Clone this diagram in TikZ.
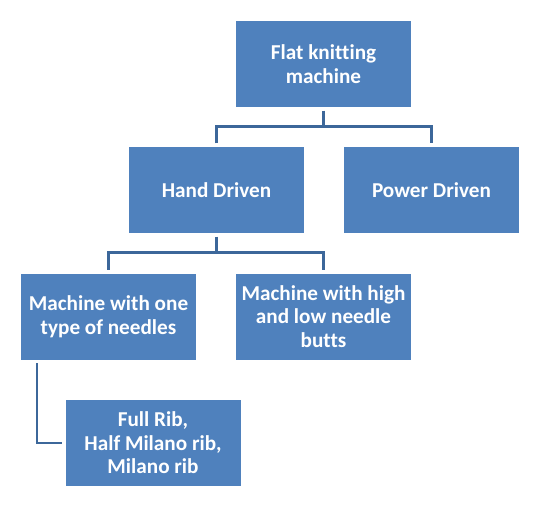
\documentclass[tikz,border=0pt]{standalone}
\usepackage{fontspec}
\setmainfont{Carlito}[Ligatures=NoCommon]
\usetikzlibrary{calc}
\definecolor{boxblue}{HTML}{4F81BD}
\definecolor{lineblue}{HTML}{3C679A}
\tikzset{
  box/.style={fill=boxblue, text=white, font=\bfseries\fontsize{21.2}{23.5}\selectfont,
    minimum width=175pt, minimum height=86pt, inner sep=0pt, align=center},
  conn/.style={draw=lineblue, line width=2.8pt, shorten <=3.5pt, shorten >=3.5pt}
}
\begin{document}
\begin{tikzpicture}[x=1pt, y=-1pt, line join=miter]
				\useasboundingbox (0,0) rectangle (545,508);
				% boxes
				\node [box] (flat) at (323.5,64) {Flat knitting\\machine};
				\node [box] (hand) at (216.5,190) {Hand Driven};
				\node [box] (power) at (431.5,190) {Power Driven};
				\node [box] (onetype) at (108.5,316.5) {Machine with one\\type of needles};
				\node [box] (highlow) at (323.5,316.5) {Machine with high\\and low needle\\butts};
				\node [box] (rib) at (153,443) {Full Rib,\\Half Milano rib,\\Milano rib};
				% connectors
				\draw [conn, shorten >=0pt] (flat.south) -- ++(0,19.5);
				\draw [conn] (hand.north) |- ($(flat.south)+(0,19.5)$) -| (power.north);
				\draw [conn, shorten >=0pt] (hand.south) -- ++(0,19.5);
				\draw [conn] (onetype.north) |- ($(hand.south)+(0,19.5)$) -| (highlow.north);
				\draw [conn, shorten >=3pt] ([xshift=-71.5pt]onetype.south) |- (rib.west);
\end{tikzpicture}
\end{document}
